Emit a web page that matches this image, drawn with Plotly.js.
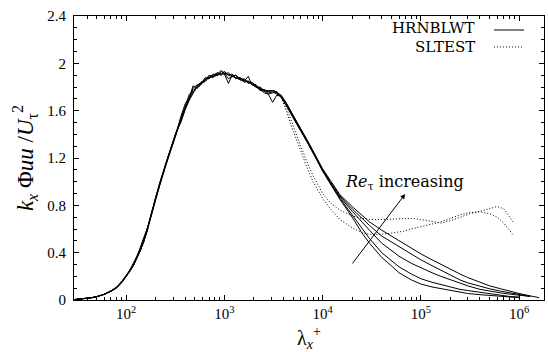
<!DOCTYPE html>
<html><head><meta charset="utf-8">
<script src="https://cdn.plot.ly/plotly-3.0.1.min.js"></script>
<style>html,body{margin:0;padding:0;background:#fff}</style>
</head><body><div id="chart" style="width:548px;height:352px"></div>
<script>
// wavelength grid (lambda_x^+) for HRNBLWT profiles
const lambdaH = [30,35,40,45,50,60,70,80,90,100,110,120,130,140,150,165,180,200,220,250,
  280,320,360,400,440,480,530,580,640,700,770,850,930,1000,1100,1200,1300,1450,1600,1750,
  1900,2100,2300,2550,2800,3100,3400,3800,4300,5000,6000,7000,8500,10000,12000,15000,
  20000,25000,30000,40000,50000,60000,80000,100000,130000,160000,200000,250000,300000,
  400000,500000,650000,800000,1000000,1300000,1600000];

const hrnblwt1 = [0.004,0.008,0.013,0.02,0.028,0.048,0.075,0.105,0.15,0.20,0.25,0.30,0.36,0.42,0.49,0.60,0.72,0.86,0.98,1.13,
  1.26,1.40,1.52,1.63,1.74,1.77,1.81,1.84,1.86,1.89,1.90,1.92,1.91,1.93,1.90,1.91,1.88,1.87,1.86,1.84,
  1.83,1.80,1.78,1.77,1.76,1.77,1.75,1.73,1.66,1.56,1.45,1.35,1.22,1.11,1.01,0.89,
  0.79,0.72,0.66,0.59,0.54,0.50,0.44,0.39,0.34,0.30,0.26,0.22,0.19,
  0.15,0.12,0.095,0.075,0.055,0.035,0.02];
const hrnblwt2 = [0.004,0.009,0.014,0.021,0.029,0.05,0.077,0.11,0.155,0.205,0.255,0.31,0.37,0.44,0.51,0.61,0.73,0.87,0.99,1.14,
  1.27,1.41,1.53,1.63,1.72,1.79,1.82,1.83,1.88,1.87,1.91,1.90,1.93,1.91,1.92,1.89,1.90,1.86,1.87,1.83,
  1.84,1.81,1.77,1.78,1.75,1.76,1.74,1.72,1.65,1.55,1.44,1.34,1.21,1.10,1.00,0.88,
  0.77,0.69,0.63,0.54,0.49,0.45,0.39,0.34,0.29,0.25,0.21,0.17,0.145,
  0.115,0.095,0.075,0.06,0.045,0.03,null];
const hrnblwt3 = [0.003,0.007,0.012,0.019,0.027,0.047,0.073,0.10,0.145,0.195,0.245,0.30,0.37,0.45,0.52,0.61,0.71,0.85,0.97,1.12,
  1.25,1.39,1.55,1.66,1.71,1.81,1.79,1.83,1.85,1.88,1.89,1.92,1.90,1.92,1.87,1.89,1.88,1.86,1.85,1.89,
  1.82,1.80,1.79,1.76,1.74,1.75,1.76,1.71,1.64,1.54,1.43,1.33,1.20,1.09,0.99,0.87,
  0.75,0.66,0.59,0.48,0.42,0.37,0.31,0.27,0.23,0.20,0.17,0.14,0.12,
  0.09,0.075,0.06,0.05,0.04,0.03,null];
const hrnblwt4 = [0.005,0.009,0.014,0.02,0.028,0.049,0.076,0.105,0.15,0.20,0.26,0.32,0.38,0.43,0.48,0.59,0.72,0.87,0.99,1.14,
  1.27,1.41,1.50,1.61,1.69,1.75,1.81,1.84,1.86,1.90,1.88,1.91,1.94,1.91,1.83,1.90,1.87,1.88,1.85,1.85,
  1.82,1.82,1.78,1.75,1.74,1.67,1.73,1.72,1.66,1.56,1.45,1.35,1.22,1.10,0.99,0.86,
  0.72,0.61,0.52,0.40,0.33,0.28,0.22,0.18,0.15,0.13,0.11,0.09,0.08,
  0.065,0.05,0.04,0.03,0.025,null,null];
const hrnblwt5 = [0.004,0.008,0.013,0.02,0.028,0.048,0.074,0.105,0.15,0.20,0.25,0.30,0.36,0.42,0.49,0.60,0.72,0.86,0.98,1.13,
  1.26,1.40,1.51,1.62,1.70,1.76,1.80,1.82,1.87,1.88,1.89,1.90,1.91,1.93,1.90,1.89,1.90,1.87,1.84,1.85,
  1.83,1.80,1.80,1.77,1.77,1.77,1.76,1.71,1.64,1.55,1.44,1.34,1.21,1.09,0.98,0.85,
  0.70,0.57,0.48,0.36,0.29,0.23,0.17,0.135,0.11,0.095,0.08,0.065,0.055,
  0.045,0.038,0.03,0.025,0.02,null,null];

// wavelength grid for SLTEST profiles
const lambdaS = [30,40,50,60,80,100,120,140,160,180,200,250,300,350,400,450,500,600,700,800,
  1000,1200,1400,1700,2000,2400,2800,3300,3800,4300,5000,6000,7000,8000,10000,12000,15000,
  20000,25000,30000,40000,50000,65000,80000,100000,130000,160000,200000,250000,320000,
  400000,500000,600000,700000,870000];
const sltest1 = [0.004,0.013,0.028,0.048,0.105,0.20,0.30,0.42,0.55,0.72,0.86,1.13,1.33,1.49,1.62,1.72,1.77,1.83,1.87,1.89,
  1.91,1.89,1.87,1.84,1.82,1.78,1.77,1.77,1.73,1.62,1.47,1.30,1.16,1.05,0.90,0.82,0.76,
  0.71,0.69,0.68,0.68,0.685,0.69,0.69,0.68,0.66,0.65,0.67,0.70,0.73,
  0.75,0.77,0.79,0.77,0.66];
const sltest2 = [0.004,0.014,0.029,0.05,0.11,0.21,0.31,0.43,0.56,0.73,0.87,1.14,1.34,1.50,1.63,1.73,1.78,1.84,1.88,1.90,
  1.92,1.90,1.88,1.85,1.83,1.77,1.76,1.76,1.71,1.59,1.43,1.26,1.11,1.00,0.86,0.77,0.68,
  0.61,0.57,0.555,0.555,0.565,0.58,0.60,0.62,0.64,0.66,0.69,0.72,0.74,
  0.745,0.73,0.70,0.65,0.55];

const yTickVals = [0,0.4,0.8,1.2,1.6,2,2.4];
const yTickText = ['0','0.4','0.8','1.2','1.6','2','2.4'];
const xTickVals = [100,1000,10000,100000,1000000];
const xTickText = ['10<sup>2</sup>','10<sup>3</sup>','10<sup>4</sup>','10<sup>5</sup>','10<sup>6</sup>'];

const seriesH = [hrnblwt1,hrnblwt2,hrnblwt3,hrnblwt4,hrnblwt5];
const seriesS = [sltest1,sltest2];

const traces = [];
seriesH.forEach((ys)=>traces.push({x:lambdaH,y:ys,type:'scatter',mode:'lines',name:'HRNBLWT',
  line:{color:'#000',width:1},showlegend:false,hoverinfo:'skip'}));
seriesS.forEach((ys)=>traces.push({x:lambdaS,y:ys,type:'scatter',mode:'lines',name:'SLTEST',
  line:{color:'#000',width:1,dash:'1px,2px'},showlegend:false,hoverinfo:'skip'}));

// minor tick positions
const xMinor = [];
for (let e=1;e<=6;e++) for (let m=2;m<=9;m++) xMinor.push(m*Math.pow(10,e));
const yMinor = [];
for (let k=0;k<=24;k++) yMinor.push(k/10);

const serif = 'Liberation Serif, Times New Roman, serif';
const wide = 'DejaVu Serif, serif';
const layout = {
  width:548, height:352,
  margin:{l:74,r:4,t:16,b:52},
  paper_bgcolor:'#fff', plot_bgcolor:'#fff',
  font:{family:serif,size:13,color:'#000'},
  showlegend:false,
  xaxis:{type:'log', range:[1.469,6.254], showgrid:false, zeroline:false,
    showline:true, linecolor:'#000', linewidth:1, mirror:'allticks',
    ticks:'inside', ticklen:5, tickcolor:'#000',
    tickmode:'array', tickvals:xTickVals, ticktext:xTickText,
    tickfont:{family:serif,size:15},
    minor:{tickmode:'array', tickvals:xMinor, ticks:'inside', ticklen:3, tickcolor:'#000', showgrid:false},
    title:{text:'λ<sub><i>x</i></sub><sup>+</sup>', font:{family:serif,size:20}, standoff:10}},
  yaxis:{range:[0,2.4], showgrid:false, zeroline:false,
    showline:true, linecolor:'#000', linewidth:1, mirror:'allticks',
    ticks:'inside', ticklen:5, tickcolor:'#000', ticklabelstandoff:4,
    tickmode:'array', tickvals:yTickVals, ticktext:yTickText,
    tickfont:{family:serif,size:15},
    minor:{tickmode:'array', tickvals:yMinor, ticks:'inside', ticklen:3, tickcolor:'#000', showgrid:false},
    title:{text:'<i>k<sub>x</sub></i> Φ<i>uu</i> /<i>U</i><sub>τ</sub><sup>2</sup>', font:{family:serif,size:23}, standoff:7}},
  annotations:[
    {xref:'x',yref:'y',x:4.841,y:0.896,ax:4.292,ay:0.296,axref:'x',ayref:'y',
     showarrow:true,arrowhead:2,arrowsize:1,arrowwidth:1,arrowcolor:'#000',text:''},
    {xref:'x',yref:'y',x:4.83,y:0.997,text:'<i>Re</i><sub>τ</sub> increasing',showarrow:false,
     font:{family:wide,size:16},xanchor:'center',yanchor:'middle'},
    {xref:'paper',yref:'paper',x:0.857,y:0.9577,text:'HRNBLWT',showarrow:false,
     xanchor:'right',yanchor:'middle',font:{family:wide,size:15}},
    {xref:'paper',yref:'paper',x:0.857,y:0.8908,text:'SLTEST',showarrow:false,
     xanchor:'right',yanchor:'middle',font:{family:wide,size:15}}
  ],
  shapes:[
    {type:'line',xref:'paper',yref:'paper',x0:0.8936,x1:0.9574,y0:0.9507,y1:0.9507,line:{color:'#000',width:1}},
    {type:'line',xref:'paper',yref:'paper',x0:0.8936,x1:0.9574,y0:0.891,y1:0.891,line:{color:'#000',width:1,dash:'1px,2px'}}
  ]
};
Plotly.newPlot('chart',traces,layout,{displayModeBar:false,staticPlot:true});
</script></body></html>
